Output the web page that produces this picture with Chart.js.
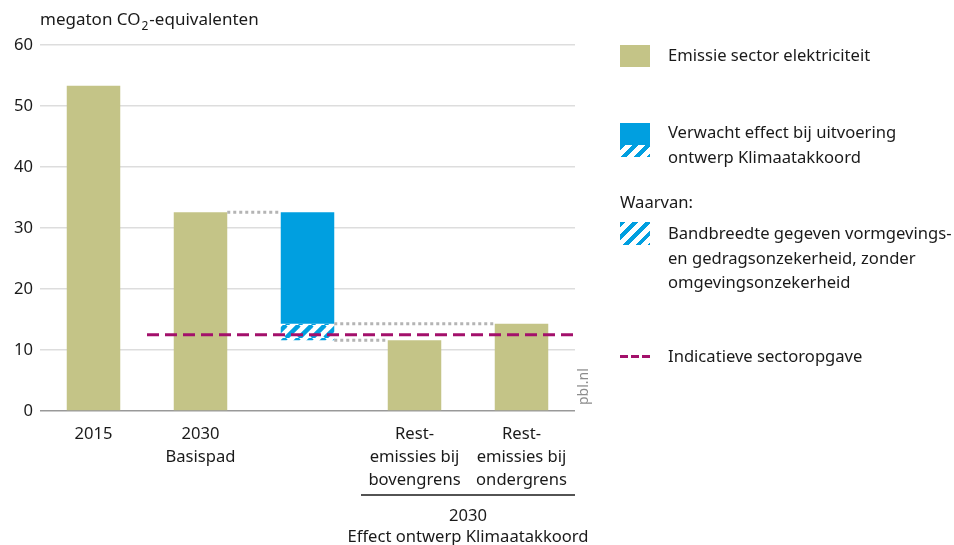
<!DOCTYPE html>
<html>
<head>
<meta charset="utf-8">
<script src="https://cdn.jsdelivr.net/npm/chart.js@4.4.0/dist/chart.umd.min.js"></script>
<style>
    body { margin: 0; background: #fff; font-family: 'Noto Sans', sans-serif; color: #1a1a1a; }
    #wrap { position: relative; width: 954px; height: 545px; }
    .swatch { position: absolute; left: 620px; width: 30px; }
    .label { position: absolute; left: 668px; font-size: 16.6px; line-height: 24.5px; white-space: nowrap; }
    .hatch { background: repeating-linear-gradient(135deg, #009fe0 0 4px, #fff 4px 9px); }
</style>
</head>
<body>
<div id="wrap">
    <canvas id="emissieChart" width="954" height="545"></canvas>
    <div id="legend"></div>
</div>
<script>
const categories = [['2015'], ['2030', 'Basispad'], [''], ['Rest-', 'emissies bij', 'bovengrens'], ['Rest-', 'emissies bij', 'ondergrens']];
const emissie = [53.3, 32.6, null, 11.6, 14.3];
const effect = [null, null, [14.3, 32.6], null, null];
const bandbreedte = [null, null, [11.6, 14.3], null, null];
const sectoropgave = 12.5;
const yTicks = [0, 10, 20, 30, 40, 50, 60];
const groupLabel = ['2030', 'Effect ontwerp Klimaatakkoord'];
const legendLabels = {
    emissie: 'Emissie sector elektriciteit',
    effect: ['Verwacht effect bij uitvoering', 'ontwerp Klimaatakkoord'],
    waarvan: 'Waarvan:',
    band: ['Bandbreedte gegeven vormgevings-', 'en gedragsonzekerheid, zonder', 'omgevingsonzekerheid'],
    opgave: 'Indicatieve sectoropgave'
};

const olive = '#c4c487';
const blue = '#009fe0';
const purple = '#a3106b';
const dotted = '#b4b4b4';
const fontSize = 16.6;

function hatchPattern() {
    const s = 13;
    const c = document.createElement('canvas');
    c.width = s; c.height = s;
    const g = c.getContext('2d');
    g.strokeStyle = blue;
    g.lineWidth = 4.5;
    [-s, 0, s].forEach(k => {
        g.beginPath();
        g.moveTo(k, s);
        g.lineTo(k + s, 0);
        g.stroke();
    });
    return g.createPattern(c, 'repeat');
}

// halve staafbreedte in categorie-eenheden (barPercentage 0.5)
const half = 0.25;
const basis = emissie[1];
const boven = bandbreedte[2][0];
const onder = bandbreedte[2][1];

const lineStyle = {
    type: 'line', xAxisID: 'xl', pointRadius: 0, borderWidth: 3, fill: false, order: 0
};

const data = {
    labels: categories,
    datasets: [
        { label: legendLabels.emissie, data: emissie, backgroundColor: olive, grouped: false, order: 1 },
        { label: 'effect', data: effect, backgroundColor: blue, grouped: false, order: 1 },
        { label: 'band', data: bandbreedte, backgroundColor: hatchPattern(), grouped: false, order: 1 },
        Object.assign({}, lineStyle, {
            label: legendLabels.opgave,
            data: [{x: 0.5, y: sectoropgave}, {x: 4.5, y: sectoropgave}],
            borderColor: purple, borderDash: [12, 6]
        }),
        Object.assign({}, lineStyle, {
            data: [{x: 1 + half, y: basis}, {x: 2 - half, y: basis}],
            borderColor: dotted, borderDash: [3, 3]
        }),
        Object.assign({}, lineStyle, {
            data: [{x: 2 + half, y: onder}, {x: 4 - half, y: onder}],
            borderColor: dotted, borderDash: [3, 3]
        }),
        Object.assign({}, lineStyle, {
            data: [{x: 2 + half, y: boven}, {x: 3 - half, y: boven}],
            borderColor: dotted, borderDash: [3, 3]
        })
    ]
};

const extras = {
    id: 'extras',
    afterDraw(chart) {
        const {ctx, chartArea, scales} = chart;
        const f = s => s + 'px "Noto Sans"';
        ctx.save();
        ctx.fillStyle = '#1a1a1a';
        ctx.textBaseline = 'middle';
        // y-as titel met subscript
        ctx.font = f(17);
        let tx = chartArea.left;
        ctx.fillText('megaton CO', tx, 20);
        tx += ctx.measureText('megaton CO').width;
        ctx.font = f(12);
        ctx.fillText('2', tx + 1, 27);
        tx += ctx.measureText('2').width + 2;
        ctx.font = f(17);
        ctx.fillText('-equivalenten', tx, 20);

        // groepslijn onder de laatste twee categorieën
        const x = scales.x;
        const w = x.getPixelForValue(1) - x.getPixelForValue(0);
        const l = x.getPixelForValue(3) - w / 2;
        const r = x.getPixelForValue(4) + w / 2;
        const y0 = chartArea.bottom + 84;
        ctx.strokeStyle = '#1a1a1a';
        ctx.lineWidth = 1.5;
        ctx.beginPath();
        ctx.moveTo(l, y0);
        ctx.lineTo(r, y0);
        ctx.stroke();
        ctx.font = f(fontSize);
        ctx.textAlign = 'center';
        ctx.fillText(groupLabel[0], (l + r) / 2, y0 + 21);
        ctx.fillText(groupLabel[1], (l + r) / 2, y0 + 42);

        // bron
        ctx.translate(chartArea.right + 9, chartArea.bottom - 6);
        ctx.rotate(-Math.PI / 2);
        ctx.textAlign = 'left';
        ctx.fillStyle = '#8c8c8c';
        ctx.font = f(14);
        ctx.fillText('pbl.nl', 0, 0);
        ctx.restore();
    }
};

const config = {
    type: 'bar',
    data,
    options: {
        responsive: false,
        animation: false,
        barPercentage: 0.5,
        categoryPercentage: 1,
        layout: { padding: { top: 45, right: 379, left: 0, bottom: 0 } },
        plugins: { legend: { display: false }, tooltip: { enabled: false } },
        scales: {
            x: {
                grid: { display: false },
                border: { display: false },
                ticks: {
                    color: '#1a1a1a', padding: 4,
                    font: { family: 'Noto Sans', size: fontSize, lineHeight: 1.38 },
                    maxRotation: 0, autoSkip: false
                },
                afterFit(scale) { scale.height = 134; }
            },
            xl: {
                type: 'linear', display: false, offset: false, min: -0.5, max: 4.5
            },
            y: {
                min: yTicks[0],
                max: yTicks[yTicks.length - 1],
                afterBuildTicks(scale) { scale.ticks = yTicks.map(v => ({value: v})); },
                afterFit(scale) { scale.width = 40; },
                border: { display: false },
                grid: {
                    drawTicks: false,
                    lineWidth: 1.5,
                    color: ctx => ctx.tick && ctx.tick.value === 0 ? '#999' : '#dddddd'
                },
                ticks: {
                    color: '#1a1a1a', padding: 7,
                    font: { family: 'Noto Sans', size: fontSize }
                }
            }
        }
    },
    plugins: [extras]
};

const myEmissieChart = new Chart(document.getElementById('emissieChart'), config);

// legenda
function buildLegend() {
    const el = document.getElementById('legend');
    const add = (html) => el.insertAdjacentHTML('beforeend', html);
    const text = (lines, top, left) => add('<div class="label" style="top:' + top + 'px;' +
        (left ? 'left:' + left + 'px;' : '') + '">' + [].concat(lines).join('<br>') + '</div>');

    add('<div class="swatch" style="top:45px;height:22px;background:' + olive + '"></div>');
    text(legendLabels.emissie, 43);

    add('<div class="swatch" style="top:123px;height:22px;background:' + blue + '"></div>');
    add('<div class="swatch hatch" style="top:145px;height:12px"></div>');
    text(legendLabels.effect, 120);

    text(legendLabels.waarvan, 190, 620);

    add('<div class="swatch hatch" style="top:222px;height:23px"></div>');
    text(legendLabels.band, 221);

    add('<div class="swatch" style="top:355px;height:3px;background:repeating-linear-gradient(90deg,' +
        purple + ' 0 8px, transparent 8px 11px)"></div>');
    text(legendLabels.opgave, 344);
}
buildLegend();
</script>
</body>
</html>
